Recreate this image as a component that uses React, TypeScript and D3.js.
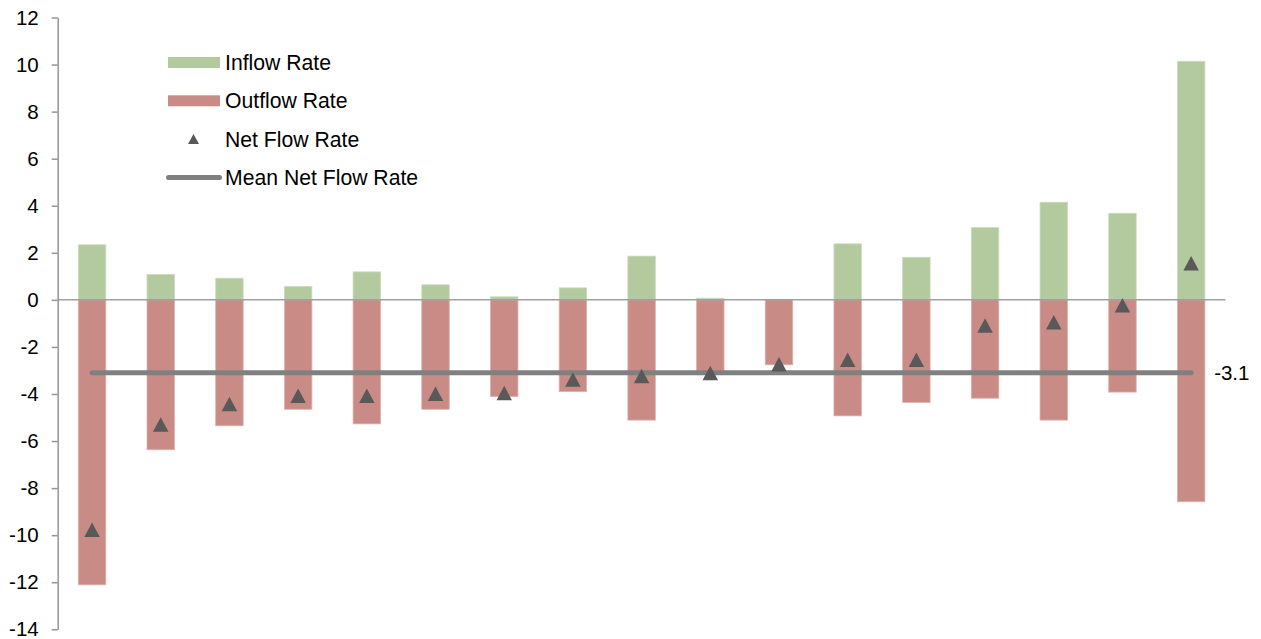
import React, { useEffect, useRef } from "react";
import * as d3 from "d3";

// Seventeen groups, ordered by net flow rate
const categories = [
  "G1", "G2", "G3", "G4", "G5", "G6", "G7", "G8", "G9",
  "G10", "G11", "G12", "G13", "G14", "G15", "G16", "G17",
];

const inflowRate = [
  2.34, 1.08, 0.92, 0.57, 1.19, 0.64, 0.13, 0.51, 1.86,
  0.07, 0.0, 2.38, 1.81, 3.07, 4.15, 3.68, 10.14,
];

const outflowRate = [
  -12.11, -6.37, -5.35, -4.65, -5.27, -4.65, -4.11, -3.9, -5.11,
  -3.18, -2.76, -4.93, -4.36, -4.18, -5.11, -3.92, -8.58,
];

const netFlowRate = [
  -9.77, -5.3, -4.42, -4.07, -4.07, -3.99, -3.96, -3.38, -3.24,
  -3.11, -2.74, -2.55, -2.54, -1.09, -0.95, -0.23, 1.56,
];

const meanNetFlowRate = -3.1;

const yTicks = [-14, -12, -10, -8, -6, -4, -2, 0, 2, 4, 6, 8, 10, 12];

const legendLabels = ["Inflow Rate", "Outflow Rate", "Net Flow Rate", "Mean Net Flow Rate"];

const W = 1261;
const H = 639;
const FONT = "'Liberation Sans', Arial, Helvetica, sans-serif";
const GREEN = "#B3C99E";
const GREEN_EDGE = "#CCDCBD";
const RED = "#C98B86";
const RED_EDGE = "#DDB1AD";
const MARKER = "#595959";
const MEAN = "#808080";
const AXIS = "#959595";

// plain hyphen for negative numbers
const locale = d3.formatLocale({
  decimal: ".",
  thousands: ",",
  grouping: [3],
  currency: ["", ""],
  minus: "-",
});

export default function App() {
  const ref = useRef<SVGSVGElement | null>(null);

  useEffect(() => {
    document.body.style.margin = "0";
    const svg = d3.select(ref.current);
    svg.selectAll("*").remove();

    const x = d3
      .scaleBand<string>()
      .domain(categories)
      .range([57.7, 1225.5])
      .paddingInner(0.6)
      .paddingOuter(0.3);
    const y = d3.scaleLinear().domain([-14, 12]).range([629.3, 17.5]);
    const cx = (c: string) => (x(c) as number) + x.bandwidth() / 2;

    const g = svg.append("g");

    // inflow bars (above zero)
    g.selectAll("rect.in")
      .data(categories)
      .join("rect")
      .attr("class", "in")
      .attr("x", (c) => x(c) as number)
      .attr("width", x.bandwidth())
      .attr("y", (_, i) => y(inflowRate[i]))
      .attr("height", (_, i) => y(0) - y(inflowRate[i]))
      .attr("fill", GREEN)
      .attr("stroke", GREEN_EDGE)
      .attr("stroke-width", 0.8);

    // outflow bars (below zero)
    g.selectAll("rect.out")
      .data(categories)
      .join("rect")
      .attr("class", "out")
      .attr("x", (c) => x(c) as number)
      .attr("width", x.bandwidth())
      .attr("y", y(0))
      .attr("height", (_, i) => y(outflowRate[i]) - y(0))
      .attr("fill", RED)
      .attr("stroke", RED_EDGE)
      .attr("stroke-width", 0.8);

    // zero baseline
    g.append("line")
      .attr("x1", x.range()[0])
      .attr("x2", x.range()[1])
      .attr("y1", y(0))
      .attr("y2", y(0))
      .attr("stroke", "#A0A0A0")
      .attr("stroke-width", 1.5);

    // y axis
    const axis = d3
      .axisLeft(y)
      .tickValues(yTicks)
      .tickSize(6)
      .tickSizeOuter(0)
      .tickPadding(13)
      .tickFormat(locale.format("d"));
    const ag = g.append("g").attr("transform", `translate(${x.range()[0]},0)`).call(axis);
    ag.select(".domain").attr("stroke", AXIS).attr("stroke-width", 1.5);
    ag.selectAll(".tick line").attr("stroke", AXIS).attr("stroke-width", 1.5);
    ag.selectAll(".tick text")
      .attr("fill", "#000")
      .style("font-family", FONT)
      .style("font-size", "20.5px");

    // mean net flow line
    const first = categories[0];
    const last = categories[categories.length - 1];
    g.append("line")
      .attr("x1", cx(first))
      .attr("x2", cx(last))
      .attr("y1", y(meanNetFlowRate))
      .attr("y2", y(meanNetFlowRate))
      .attr("stroke", MEAN)
      .attr("stroke-width", 5)
      .attr("stroke-linecap", "round");

    g.append("text")
      .attr("x", cx(last) + 23)
      .attr("y", y(meanNetFlowRate))
      .attr("dy", "0.35em")
      .style("font-family", FONT)
      .style("font-size", "20.5px")
      .attr("fill", "#000")
      .text(locale.format(".1f")(meanNetFlowRate));

    // net flow markers
    const tri = (w: number, h: number) => `M0,${-h / 2}L${w / 2},${h / 2}L${-w / 2},${h / 2}Z`;
    g.selectAll("path.net")
      .data(categories)
      .join("path")
      .attr("class", "net")
      .attr("d", tri(15.5, 14.5))
      .attr("transform", (c, i) => `translate(${cx(c)},${y(netFlowRate[i])})`)
      .attr("fill", MARKER);

    // legend
    const lg = g.append("g");
    const rowY = (i: number) => 62.5 + i * 38.3;
    const textX = 225;
    legendLabels.forEach((label, i) => {
      const yy = rowY(i);
      if (i === 0 || i === 1) {
        lg.append("rect")
          .attr("x", 168)
          .attr("y", yy - 5.5)
          .attr("width", 52)
          .attr("height", 11)
          .attr("fill", i === 0 ? GREEN : RED);
      } else if (i === 2) {
        lg.append("path")
          .attr("d", tri(11, 10))
          .attr("transform", `translate(193.5,${yy})`)
          .attr("fill", MARKER);
      } else {
        lg.append("line")
          .attr("x1", 168.5)
          .attr("x2", 219.5)
          .attr("y1", yy)
          .attr("y2", yy)
          .attr("stroke", MEAN)
          .attr("stroke-width", 5)
          .attr("stroke-linecap", "round");
      }
      lg.append("text")
        .attr("x", textX)
        .attr("y", yy)
        .attr("dy", "0.35em")
        .style("font-family", FONT)
        .style("font-size", "21.2px")
        .attr("fill", "#000")
        .text(label);
    });
  }, []);

  return <svg ref={ref} width={W} height={H} style={{ display: "block", background: "#fff" }} />;
}
